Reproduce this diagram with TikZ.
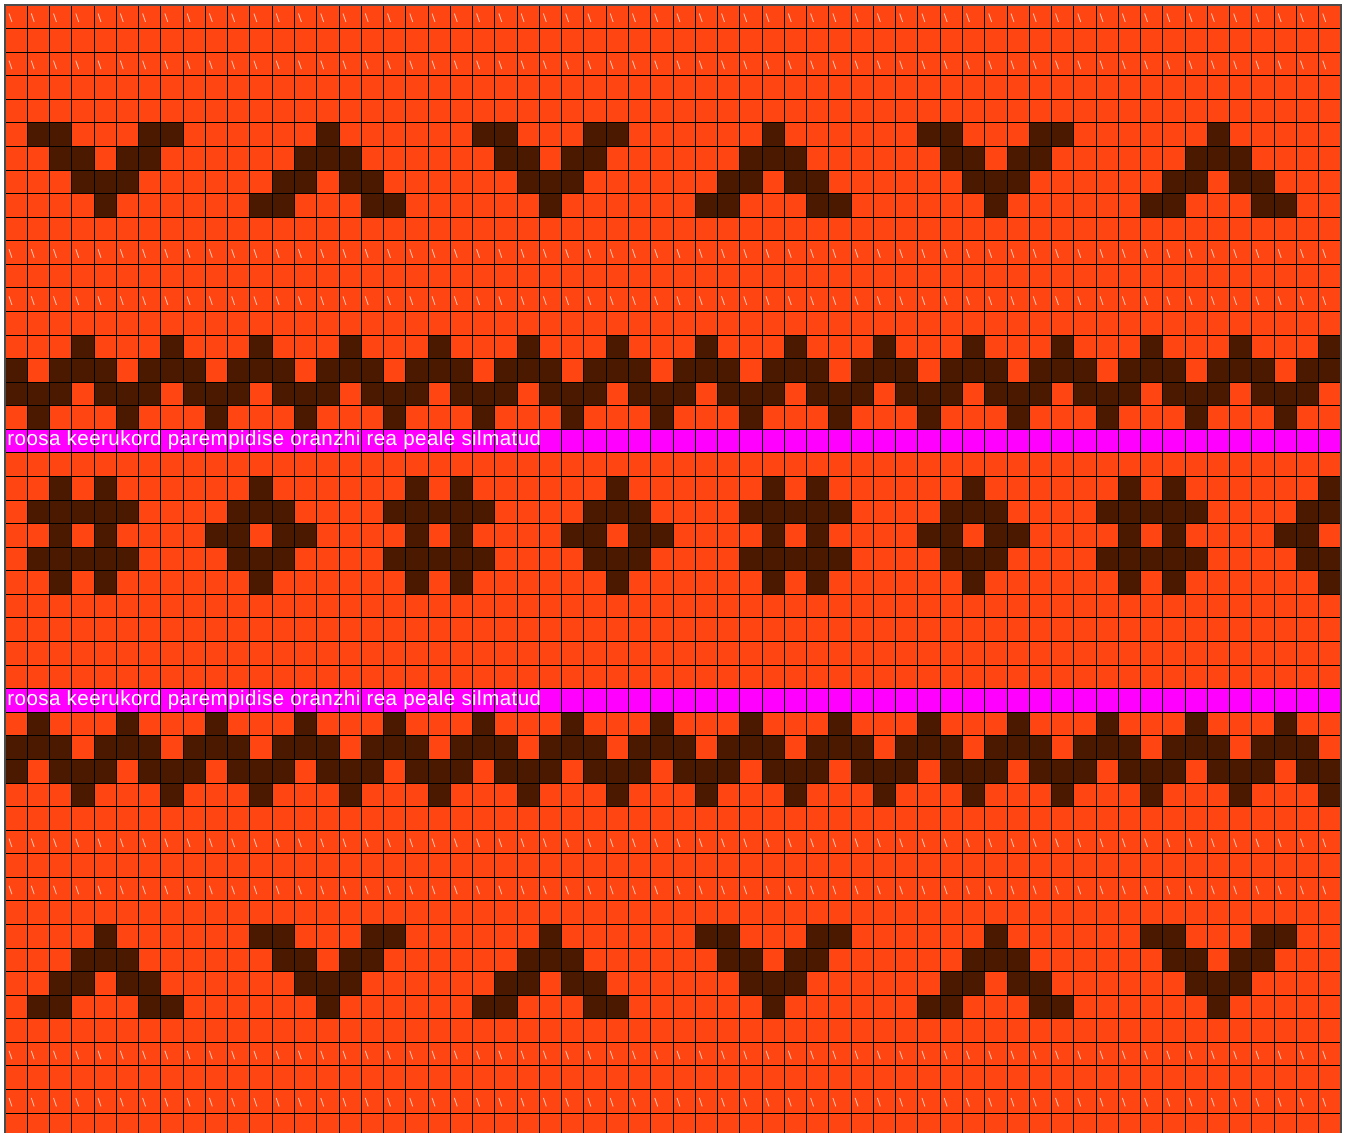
\documentclass[tikz,border=0pt]{standalone}
\usepackage{fontspec}
\setmainfont{Liberation Sans}
\newfontfamily\lblfont[LetterSpace=2.3]{Liberation Sans}
\definecolor{orng}{RGB}{255,69,18}
\definecolor{dkbrown}{RGB}{74,25,0}
\definecolor{mgnt}{RGB}{255,0,255}
\definecolor{slashc}{RGB}{255,190,170}
\begin{document}
\begin{tikzpicture}[x=22.2667pt,y=-23.5745pt,
  dk/.style={fill=dkbrown},
  gl/.style={draw=black,line width=0.9pt},
  slashst/.style={draw=slashc,line width=0.9pt},
  border/.style={draw=black!70,line width=1.2pt},
  lbl/.style={text=white,font=\lblfont\fontsize{20.5pt}{23pt}\selectfont,inner sep=0pt,anchor=base west}]
\useasboundingbox (-0.22455,-0.21209) rectangle (60.4041,47.8483);
\begin{scope}
\clip (0,0) rectangle (60,47.8483);
\fill[orng] (0,0) rectangle (60,48);
\fill[mgnt] (0,18) rectangle (60,19);
\fill[mgnt] (0,29) rectangle (60,30);
% band A: V shapes
\foreach \s in {1,21,41} {
  \foreach \dc/\r in {0/5,1/5,5/5,6/5, 1/6,2/6,4/6,5/6, 2/7,3/7,4/7, 3/8}
    \fill[dk] ({\s+\dc},\r) rectangle ++(1,1);
}
% band A: peaks
\foreach \s in {14,34,54} {
  \foreach \dc/\r in {0/5, -1/6,0/6,1/6, -2/7,-1/7,1/7,2/7, -3/8,-2/8,2/8,3/8}
    \fill[dk] ({\s+\dc},\r) rectangle ++(1,1);
}
% band B: zigzag
\foreach \k in {0,...,14} {
  \foreach \dc/\r in {3/14, 0/15,2/15,3/15, 0/16,1/16,2/16, 1/17}
    \fill[dk] ({4*\k+\dc},\r) rectangle ++(1,1);
}
% band C: hash motifs
\foreach \s in {1,17,33,49} {
  \foreach \dc/\r in {1/20,3/20, 0/21,1/21,2/21,3/21,4/21, 1/22,3/22, 0/23,1/23,2/23,3/23,4/23, 1/24,3/24}
    \fill[dk] ({\s+\dc},\r) rectangle ++(1,1);
}
% band C: diamonds
\foreach \s in {11,27,43,59} {
  \foreach \dc/\r in {0/20, -1/21,0/21,1/21, -2/22,-1/22,1/22,2/22, -1/23,0/23,1/23, 0/24}
    \fill[dk] ({\s+\dc},\r) rectangle ++(1,1);
}
% band E: zigzag
\foreach \k in {0,...,14} {
  \foreach \dc/\r in {1/30, 0/31,1/31,2/31, 0/32,2/32,3/32, 3/33}
    \fill[dk] ({4*\k+\dc},\r) rectangle ++(1,1);
}
% band D: peaks
\foreach \s in {4,24,44} {
  \foreach \dc/\r in {0/39, -1/40,0/40,1/40, -2/41,-1/41,1/41,2/41, -3/42,-2/42,2/42,3/42}
    \fill[dk] ({\s+\dc},\r) rectangle ++(1,1);
}
% band D: V shapes
\foreach \s in {11,31,51} {
  \foreach \dc/\r in {0/39,1/39,5/39,6/39, 1/40,2/40,4/40,5/40, 2/41,3/41,4/41, 3/42}
    \fill[dk] ({\s+\dc},\r) rectangle ++(1,1);
}
% slash rows
\foreach \r in {0,2,10,12,35,37,44,46} {
  \foreach \c in {0,...,59}
    \draw[slashst] ({\c+0.18},{\r+0.36}) -- ({\c+0.31},{\r+0.72});
}
% grid
\foreach \c in {0,...,60} \draw[gl] (\c,0) -- (\c,48);
\foreach \r in {0,...,48} \draw[gl] (0,\r) -- (60,\r);
\end{scope}
\draw[border] (0,48) -- (0,0) -- (60,0) -- (60,48);
\node[lbl] (t1) at (0.1,18.7) {roosa keerukord parempidise oranzhi rea peale silmatud};
\node[lbl] (t2) at (0.1,29.7) {roosa keerukord parempidise oranzhi rea peale silmatud};
\end{tikzpicture}
\end{document}
